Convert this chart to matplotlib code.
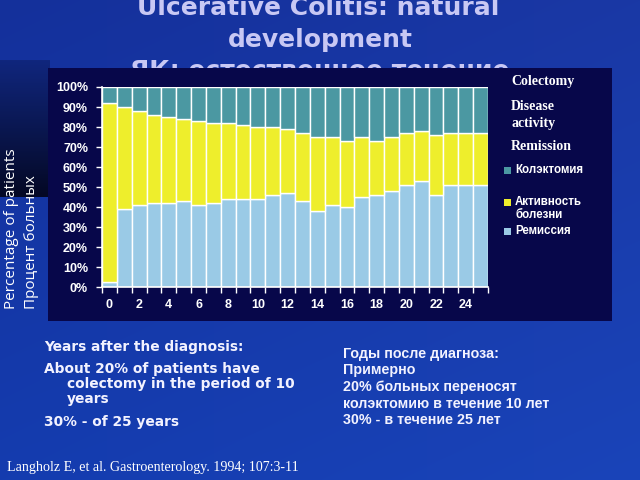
import numpy as np
import matplotlib
matplotlib.use("Agg")
import matplotlib.pyplot as plt
from matplotlib.patches import Rectangle

years = list(range(26))
remission = [2.5, 39, 41, 42, 42, 43, 41, 42, 44, 44, 44, 46, 47, 43, 38, 41, 40, 45, 46, 48, 51, 53, 46, 51, 51, 51]
activity = [89.5, 51, 47, 44, 43, 41, 42, 40, 38, 37, 36, 34, 32, 34, 37, 34, 33, 30, 27, 27, 26, 25, 30, 26, 26, 26]
colectomy = [8, 10, 12, 14, 15, 16, 17, 18, 18, 19, 20, 20, 21, 23, 25, 25, 27, 25, 27, 25, 23, 22, 24, 23, 23, 23]
xtick_labels = [str(v) for v in range(0, 25, 2)]
ytick_labels = [f"{v}%" for v in range(0, 101, 10)]

C_COL = "#4b98a2"
C_ACT = "#eeee2c"
C_REM = "#9acae6"
BOX = "#07074a"
TITLE_C = "#c8c8f4"

W, H = 640, 480
fig = plt.figure(figsize=(6.4, 4.8), dpi=100)

# background axes in pixel coordinates
bg = fig.add_axes([0, 0, 1, 1])
bg.set_xlim(0, W)
bg.set_ylim(H, 0)
bg.axis("off")

yy, xx = np.mgrid[0:H, 0:W]
r = 20 + 6 * (xx / W)
g = 48 + 12 * (yy / H) + 8 * (xx / W)
b = 155 + 20 * (yy / H) + 10 * (xx / W)
img = np.dstack([r, g, b]) / 255.0
bg.imshow(np.clip(img, 0, 1), extent=[0, W, H, 0], aspect="auto", zorder=0)

# dark gradient panel on the left
grad = np.linspace(0, 1, 100)[:, None]
top_c = np.array([16, 38, 125]) / 255
bot_c = np.array([4, 8, 36]) / 255
pan = top_c[None, None, :] * (1 - grad[:, :, None]) + bot_c[None, None, :] * grad[:, :, None]
pan = np.repeat(pan, 10, axis=1)
bg.imshow(pan, extent=[0, 50, 197, 60], aspect="auto", zorder=1)

# title (third line partly hidden behind chart box)
bg.text(318, 8, "Ulcerative Colitis: natural", color=TITLE_C, fontsize=18,
        fontweight="bold", ha="center", va="center", zorder=1, family="DejaVu Sans")
bg.text(320, 40, "development", color=TITLE_C, fontsize=18,
        fontweight="bold", ha="center", va="center", zorder=1, family="DejaVu Sans")
bg.text(320, 71, "ЯК: естественное течение", color=TITLE_C, fontsize=18,
        fontweight="bold", ha="center", va="center", zorder=1, family="DejaVu Sans")

# chart box
bg.add_patch(Rectangle((48, 68), 612 - 48, 321 - 68, facecolor=BOX, edgecolor="none", zorder=2))

# legend (English)
for txt, y in [("Colectomy", 82), ("Disease", 106), ("activity", 123), ("Remission", 147)]:
    bg.text(511, y, txt, color="white", fontsize=10, fontweight="bold",
            family="Liberation Serif", ha="left", va="center", zorder=3)
# legend (Russian)
for col, y in [(C_COL, 170), (C_ACT, 202), (C_REM, 231)]:
    bg.add_patch(Rectangle((504, y - 3.5), 7, 7, facecolor=col, edgecolor="none", zorder=3))
for txt, y in [("Колэктомия", 170), ("Активность", 202), ("болезни", 215), ("Ремиссия", 231)]:
    bg.text(515, y, txt, color="white", fontsize=8.3, fontweight="bold",
            family="Liberation Sans", ha="left", va="center", zorder=3)

# y label
bg.text(12, 309, "Percentage of patients", color="white", fontsize=11, rotation=90,
        ha="center", va="bottom", family="Open Sans", zorder=3)
bg.text(32, 309, "Процент больных", color="white", fontsize=11, rotation=90,
        ha="center", va="bottom", family="Open Sans", zorder=3)

# bottom text
TXT_C = "#f2f2ff"
fs = 9.9
bg.text(44, 347, "Years after the diagnosis:", color=TXT_C, fontsize=fs, fontweight="bold", va="center", zorder=3)
bg.text(44, 369, "About 20% of patients have", color=TXT_C, fontsize=fs, fontweight="bold", va="center", zorder=3)
bg.text(67, 384, "colectomy in the period of 10", color=TXT_C, fontsize=fs, fontweight="bold", va="center", zorder=3)
bg.text(67, 399, "years", color=TXT_C, fontsize=fs, fontweight="bold", va="center", zorder=3)
bg.text(44, 422, "30% - of 25 years", color=TXT_C, fontsize=fs, fontweight="bold", va="center", zorder=3)

fr = 10.3
for txt, y in [("Годы после диагноза:", 354), ("Примерно", 370), ("20% больных переносят", 387),
               ("колэктомию в течение 10 лет", 404), ("30% - в течение 25 лет", 420)]:
    bg.text(343, y, txt, color=TXT_C, fontsize=fr, fontweight="bold", family="Liberation Sans",
            va="center", zorder=3)

bg.text(7, 467, "Langholz E, et al. Gastroenterology. 1994; 107:3-11", color="white", fontsize=10.1,
        family="Liberation Serif", va="center", zorder=3)

# chart axes
ax = fig.add_axes([102 / W, 1 - 287 / H, (488 - 102) / W, (287 - 87) / H])
ax.set_facecolor("none")
x = np.array(years)
rem = np.array(remission)
act = np.array(activity)
col = np.array(colectomy)
kw = dict(width=1.0, edgecolor="white", linewidth=1.0)
ax.bar(x, rem, color=C_REM, **kw)
ax.bar(x, act, bottom=rem, color=C_ACT, **kw)
ax.bar(x, col, bottom=rem + act, color=C_COL, **kw)
ax.set_xlim(-0.5, 25.5)
ax.set_ylim(0, 100)

ax.set_yticks(range(0, 101, 10))
ax.set_yticklabels(ytick_labels)
ax.set_xticks(np.arange(-0.5, 26, 1.0))
ax.set_xticklabels([])
ax.set_xticks(range(0, 25, 2), minor=True)
ax.set_xticklabels(xtick_labels, minor=True)
ax.tick_params(axis="x", which="major", length=4, width=1, color="white", direction="out")
ax.tick_params(axis="x", which="minor", length=0, pad=9, labelsize=9, labelcolor="white")
ax.tick_params(axis="y", length=4, width=1, color="white", direction="out", pad=6,
               labelsize=9, labelcolor="white")
for lab in ax.get_xticklabels(minor=True) + ax.get_yticklabels():
    lab.set_fontweight("bold")
    lab.set_family("Liberation Sans")
for s in ["top", "right"]:
    ax.spines[s].set_visible(False)
for s in ["left", "bottom"]:
    ax.spines[s].set_color("white")
    ax.spines[s].set_linewidth(1.2)

fig.savefig("out.png", dpi=100)
